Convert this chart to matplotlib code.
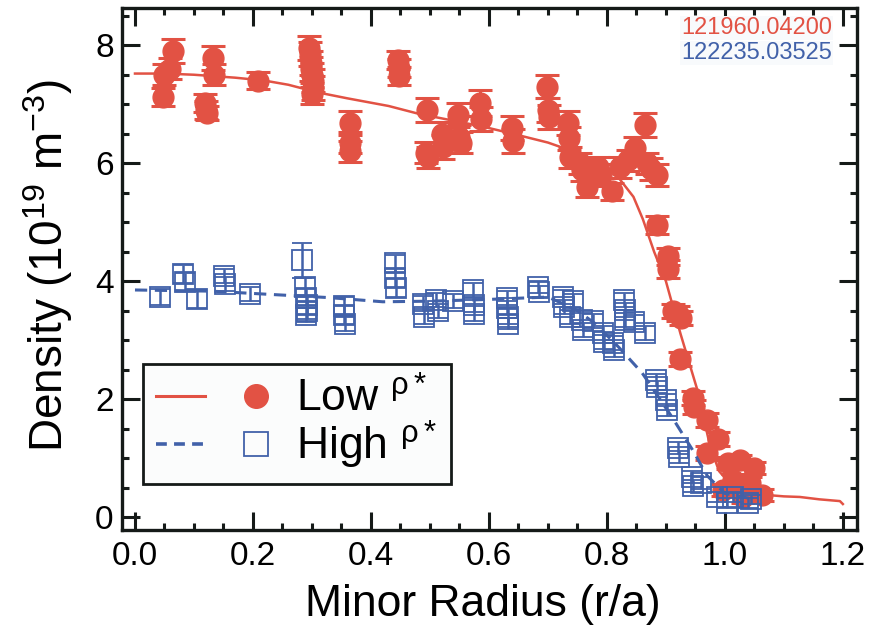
import matplotlib
matplotlib.use('Agg')
import matplotlib.pyplot as plt
from matplotlib.lines import Line2D
from matplotlib.legend_handler import HandlerTuple
from matplotlib.ticker import MultipleLocator, FormatStrFormatter

plt.rcParams['font.family'] = ['Liberation Sans', 'DejaVu Sans']
plt.rcParams['mathtext.fontset'] = 'custom'
plt.rcParams['mathtext.rm'] = 'Liberation Sans'
plt.rcParams['mathtext.it'] = 'Liberation Sans:italic'

RED = '#e25244'
BLUE = '#4161a9'

# low rho* shot (121960), measured points
low_r = [0.047, 0.050, 0.060, 0.064, 0.118, 0.120, 0.122, 0.132, 0.134, 0.209,
         0.295, 0.297, 0.298, 0.299, 0.300, 0.301, 0.302, 0.300,
         0.364, 0.364, 0.365, 0.446, 0.447, 0.448,
         0.495, 0.493, 0.497, 0.520, 0.522, 0.548, 0.550, 0.552, 0.585, 0.587,
         0.639, 0.641, 0.698, 0.700, 0.702, 0.734, 0.736, 0.737,
         0.754, 0.758, 0.766, 0.785, 0.790, 0.808, 0.822, 0.836, 0.847,
         0.864, 0.868, 0.875, 0.885, 0.885, 0.904, 0.904, 0.912, 0.920, 0.925,
         0.924, 0.946, 0.948, 0.969, 0.988, 0.969,
         1.005, 1.025, 1.050, 1.013, 1.042, 1.063, 0.997, 1.030]
low_n = [7.12, 7.50, 7.60, 7.90, 7.02, 6.90, 6.85, 7.78, 7.50, 7.40,
         7.95, 7.85, 7.70, 7.60, 7.50, 7.40, 7.28, 7.18,
         6.68, 6.35, 6.20, 7.75, 7.62, 7.48,
         6.90, 6.18, 6.10, 6.50, 6.27, 6.82, 6.45, 6.35, 7.02, 6.75,
         6.60, 6.38, 7.30, 6.90, 6.78, 6.68, 6.42, 6.10,
         6.00, 5.88, 5.60, 5.93, 5.80, 5.52, 5.93, 6.05, 6.25,
         6.65, 6.00, 5.90, 5.80, 4.95, 4.42, 4.20, 3.50, 3.45, 3.38,
         2.68, 2.02, 1.86, 1.64, 1.33, 1.08,
         0.92, 0.96, 0.83, 0.63, 0.58, 0.38, 0.46, 0.34]
low_err = [0.15, 0.18, 0.18, 0.20, 0.15, 0.15, 0.12, 0.20, 0.18, 0.15,
           0.20, 0.20, 0.20, 0.20, 0.20, 0.20, 0.20, 0.18,
           0.20, 0.18, 0.18, 0.15, 0.15, 0.15,
           0.20, 0.18, 0.18, 0.20, 0.20, 0.20, 0.20, 0.18, 0.22, 0.20,
           0.20, 0.20, 0.20, 0.20, 0.20, 0.20, 0.20, 0.18,
           0.18, 0.18, 0.18, 0.18, 0.18, 0.15, 0.18, 0.18, 0.20,
           0.20, 0.18, 0.18, 0.18, 0.15, 0.15, 0.15, 0.12, 0.12, 0.12,
           0.12, 0.12, 0.12, 0.12, 0.12, 0.12,
           0.10, 0.10, 0.10, 0.10, 0.10, 0.10, 0.10, 0.10]

# high rho* shot (122235), measured points
high_r = [0.042, 0.082, 0.084, 0.105, 0.151, 0.153, 0.195,
          0.283, 0.288, 0.290, 0.291, 0.292, 0.290,
          0.354, 0.355, 0.356, 0.440, 0.441, 0.442,
          0.488, 0.490, 0.511, 0.513, 0.539, 0.573, 0.574, 0.575,
          0.630, 0.631, 0.632, 0.633, 0.683, 0.685,
          0.725, 0.727, 0.742, 0.737, 0.758, 0.760, 0.776,
          0.793, 0.795, 0.810, 0.812, 0.829, 0.830, 0.831, 0.846, 0.864,
          0.883, 0.885, 0.900, 0.902, 0.920, 0.922, 0.944, 0.946, 0.960,
          0.986, 1.003, 1.014, 1.040, 1.045]
high_n = [3.73, 4.12, 3.98, 3.70, 4.08, 3.95, 3.78,
          4.35, 3.90, 3.72, 3.60, 3.50, 3.42,
          3.58, 3.42, 3.28, 4.30, 4.05, 3.88,
          3.62, 3.40, 3.68, 3.50, 3.67, 3.85, 3.60, 3.45,
          3.72, 3.55, 3.40, 3.28, 3.90, 3.82,
          3.73, 3.56, 3.66, 3.39, 3.34, 3.17, 3.32,
          3.12, 2.97, 2.95, 2.83, 3.68, 3.51, 3.34, 3.30, 3.12,
          2.32, 2.20, 1.98, 1.81, 1.17, 1.02, 0.68, 0.52, 0.58,
          0.34, 0.24, 0.34, 0.24, 0.30]
high_err = [0.14, 0.15, 0.15, 0.15, 0.12, 0.12, 0.12,
            0.30, 0.15, 0.15, 0.15, 0.15, 0.12,
            0.15, 0.15, 0.12, 0.15, 0.15, 0.15,
            0.12, 0.12, 0.12, 0.12, 0.12, 0.12, 0.12, 0.12,
            0.12, 0.12, 0.12, 0.10, 0.10, 0.10,
            0.12, 0.12, 0.12, 0.12, 0.12, 0.12, 0.12,
            0.12, 0.12, 0.12, 0.12, 0.12, 0.12, 0.12, 0.12, 0.12,
            0.10, 0.10, 0.10, 0.10, 0.10, 0.10, 0.10, 0.10, 0.10,
            0.08, 0.08, 0.08, 0.08, 0.08]

# fitted profiles
low_fit_r = [0.0, 0.05, 0.10, 0.17, 0.22, 0.26, 0.31, 0.36, 0.43, 0.48, 0.55,
             0.59, 0.64, 0.70, 0.72, 0.76, 0.81, 0.845, 0.861, 0.88, 0.90,
             0.925, 0.952, 0.975, 0.99, 1.01, 1.04, 1.076, 1.10, 1.127,
             1.16, 1.195, 1.20]
low_fit_n = [7.52, 7.52, 7.50, 7.45, 7.40, 7.33, 7.20, 7.10, 6.97, 6.84, 6.70,
             6.62, 6.50, 6.35, 6.28, 6.10, 5.88, 5.43, 5.05, 4.50, 4.00,
             3.10, 2.20, 1.20, 0.78, 0.55, 0.42, 0.37, 0.35, 0.34,
             0.30, 0.27, 0.22]
high_fit_r = [0.0, 0.13, 0.22, 0.33, 0.42, 0.50, 0.60, 0.65, 0.70, 0.725,
              0.75, 0.78, 0.82, 0.86, 0.91, 0.945, 0.97, 1.00, 1.05]
high_fit_n = [3.85, 3.83, 3.78, 3.72, 3.65, 3.66, 3.69, 3.71, 3.73, 3.62,
              3.50, 3.28, 2.88, 2.44, 1.70, 1.14, 0.70, 0.40, 0.30]

fig = plt.figure(figsize=(8.69, 6.38), dpi=100)
ax = fig.add_axes([0.1404, 0.1693, 0.8458, 0.818])

ax.plot(low_fit_r, low_fit_n, color=RED, lw=1.8, zorder=2)
ax.errorbar(low_r, low_n, yerr=low_err, fmt='o', color=RED, ms=15,
            capsize=8.5, capthick=2.2, elinewidth=2.2, zorder=3)
ax.plot(high_fit_r, high_fit_n, color=BLUE, lw=2.2, ls=(0, (4, 2.5)), zorder=4)
ax.errorbar(high_r, high_n, yerr=high_err, fmt='s', color=BLUE, mfc='none',
            mec=BLUE, ms=14, mew=1.3, capsize=7, capthick=1.8,
            elinewidth=1.8, zorder=5)

ax.set_xlim(-0.022, 1.224)
ax.set_ylim(-0.22, 8.63)
ax.xaxis.set_major_locator(MultipleLocator(0.2))
ax.xaxis.set_minor_locator(MultipleLocator(0.05))
ax.yaxis.set_major_locator(MultipleLocator(2))
ax.yaxis.set_minor_locator(MultipleLocator(0.5))
ax.xaxis.set_major_formatter(FormatStrFormatter('%.1f'))
ax.tick_params(which='both', direction='in', top=True, right=True, width=2.2,
               color='#151a18')
ax.tick_params(which='major', length=13)
ax.tick_params(which='minor', length=5)
ax.tick_params(axis='y', labelsize=24, pad=6)
ax.tick_params(axis='x', labelsize=24, pad=8)
for sp in ax.spines.values():
    sp.set_linewidth(2.4)
    sp.set_color('#151a18')

ax.set_xlabel('Minor Radius (r/a)', fontsize=32)
ax.set_ylabel('Density (10$^{19}$ m$^{-3}$)', fontsize=33)
ax.xaxis.set_label_coords(0.491, -0.103)
ax.yaxis.set_label_coords(-0.064, 0.506)

ax.text(0.966, 0.962, '121960.04200', color=RED, fontsize=17,
        ha='right', va='center', transform=ax.transAxes,
        bbox=dict(facecolor='#f8fafc', edgecolor='none', pad=1))
ax.text(0.966, 0.914, '122235.03525', color=BLUE, fontsize=17,
        ha='right', va='center', transform=ax.transAxes,
        bbox=dict(facecolor='#f8fafc', edgecolor='none', pad=1))

h_low = (Line2D([], [], color=RED, lw=2.2),
         Line2D([], [], color=RED, marker='o', ls='none', ms=17))
h_high = (Line2D([], [], color=BLUE, lw=2.6, ls=(0, (3, 2))),
          Line2D([], [], color=BLUE, marker='s', ls='none', ms=17,
                 mfc='none', mew=1.3))
leg = ax.legend([h_low, h_high], ['Low $^{\\mathrm{ρ*}}$', 'High $^{\\mathrm{ρ*}}$'],
                handler_map={tuple: HandlerTuple(ndivide=None, pad=0.6)},
                loc='lower left', bbox_to_anchor=(0.0286, 0.088),
                borderaxespad=0, fontsize=32, handlelength=2.8,
                handletextpad=0.35, borderpad=0.3, labelspacing=-0.05,
                fancybox=False, framealpha=1, facecolor='#fbfcfc',
                edgecolor='#151a18', numpoints=1)
leg.get_frame().set_linewidth(2.0)

fig.savefig('out.png', dpi=100)
